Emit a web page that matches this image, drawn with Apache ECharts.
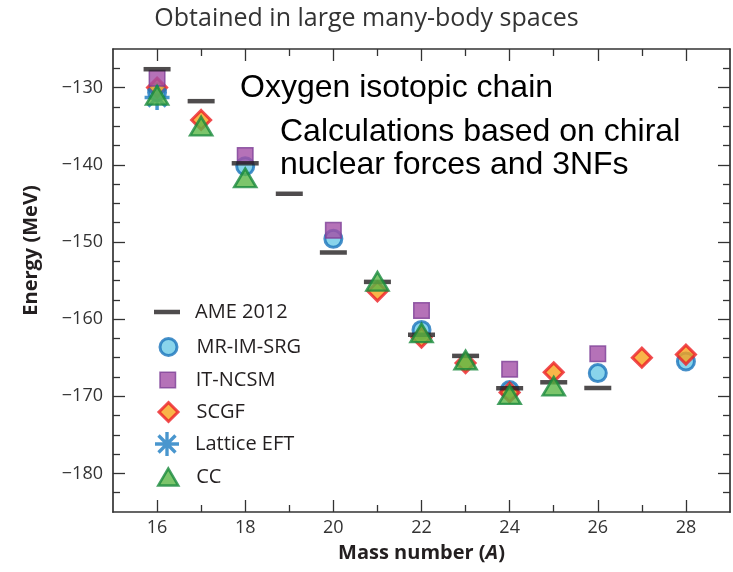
<!DOCTYPE html>
<html>
<head>
<meta charset="utf-8">
<script src="https://cdn.jsdelivr.net/npm/echarts@6/dist/echarts.min.js"></script>
<style>
  html, body { margin: 0; padding: 0; background: #fff; }
  #chart { width: 733px; height: 572px; }
</style>
</head>
<body>
<div id="chart"></div>
<script>
// Ground-state energies of oxygen isotopes (MeV) against mass number A
const ameA = [16, 17, 18, 19, 20, 21, 22, 23, 24, 25, 26];
const ameE = [-127.62, -131.76, -139.81, -143.76, -151.37, -155.18, -162.03, -164.77, -168.96, -168.19, -168.93];

const imsrgA = [16, 18, 20, 22, 24, 26, 28];
const imsrgE = [-130.6, -140.2, -149.6, -161.4, -169.2, -167.0, -165.5];

const ncsmA = [16, 18, 20, 22, 24, 26];
const ncsmE = [-128.8, -138.8, -148.5, -158.9, -166.5, -164.5];

const scgfA = [16, 17, 21, 22, 23, 24, 25, 27, 28];
const scgfE = [-130.0, -134.2, -156.4, -162.4, -165.7, -169.5, -166.9, -165.0, -164.6];

const latticeA = [16];
const latticeE = [-131.3];

const ccA = [16, 17, 18, 21, 22, 23, 24, 25];
const ccE = [-131.0, -135.0, -141.7, -155.1, -161.8, -165.3, -169.8, -168.7];

// Tick positions
const xMajorTicks = [16, 18, 20, 22, 24, 26, 28];
const xMinorTicks = [17, 19, 21, 23, 25, 27];
const yMajorTicks = [-180, -170, -160, -150, -140, -130];
const yMinorTicks = [-182.5, -177.5, -175, -172.5, -167.5, -165, -162.5, -157.5, -155, -152.5,
                     -147.5, -145, -142.5, -137.5, -135, -132.5, -127.5];

const zip = (xs, ys) => xs.map((x, i) => [x, ys[i]]);

const FONT = 'Open Sans';
const AXIS_COLOR = '#333';
const TEXT_COLOR = '#231f20';

// Asterisk marker: four thin bars through the centre, all wound the same way
function asteriskPath(len, half) {
  let d = '';
  [0, 45, 90, 135].forEach(deg => {
    const t = deg * Math.PI / 180;
    const ux = Math.cos(t), uy = Math.sin(t), nx = -uy, ny = ux;
    const pts = [
      [len * ux + half * nx, len * uy + half * ny],
      [-len * ux + half * nx, -len * uy + half * ny],
      [-len * ux - half * nx, -len * uy - half * ny],
      [len * ux - half * nx, len * uy - half * ny]
    ];
    d += 'M' + pts.map(p => p[0].toFixed(2) + ',' + p[1].toFixed(2)).join('L') + 'Z';
  });
  return 'path://' + d;
}
const ASTERISK = asteriskPath(10, 1.4);
const BAR_ICON = 'path://M0,0H26V4.5H0Z';
const TRIANGLE_ICON = 'path://M10,0L20,17L0,17Z';

const styles = {
  ame:     { color: '#231f20' },
  imsrg:   { color: '#6cc9e6', borderColor: '#1a74bb', borderWidth: 3 },
  ncsm:    { color: '#a24fa6', borderColor: '#7d3f96', borderWidth: 1.5 },
  scgf:    { color: '#f8a31c', borderColor: '#ec1f26', borderWidth: 3 },
  lattice: { color: '#1b7cc2' },
  cc:      { color: '#5bb646', borderColor: '#19893c', borderWidth: 2.5 }
};

const series = [
  { name: 'AME 2012', data: zip(ameA, ameE), symbol: 'rect', symbolSize: [27, 4.5],
    itemStyle: styles.ame, z: 6 },
  { name: 'MR-IM-SRG', data: zip(imsrgA, imsrgE), symbol: 'circle', symbolSize: 17,
    itemStyle: styles.imsrg, z: 2 },
  { name: 'IT-NCSM', data: zip(ncsmA, ncsmE), symbol: 'rect', symbolSize: 15.5,
    itemStyle: styles.ncsm, z: 4 },
  { name: 'SCGF', data: zip(scgfA, scgfE), symbol: 'diamond', symbolSize: 19,
    itemStyle: styles.scgf, z: 3 },
  { name: 'Lattice EFT', data: zip(latticeA, latticeE), symbol: ASTERISK, symbolSize: 25,
    itemStyle: styles.lattice, z: 5 },
  { name: 'CC', data: zip(ccA, ccE), symbol: 'triangle', symbolSize: [22, 18.5],
    itemStyle: styles.cc, z: 7 }
].map(s => Object.assign({ type: 'scatter', emphasis: { disabled: true }, clip: false }, s));

// One legend block per entry: icon box matches the icon, text starts at a common x
const LEGEND_ICON_CX = 167;
const LEGEND_TEXT_X = 195;
const legendRows = [
  { name: 'AME 2012',    cy: 312, w: 26,   h: 4.5,  icon: BAR_ICON,      style: { borderWidth: 0 } },
  { name: 'MR-IM-SRG',   cy: 347, w: 17,   h: 17,   icon: 'circle',      style: { borderWidth: 3 } },
  { name: 'IT-NCSM',     cy: 380, w: 15.5, h: 15.5, icon: 'rect',        style: { borderWidth: 1.5 } },
  { name: 'SCGF',        cy: 412, w: 19,   h: 19,   icon: 'diamond',     style: { borderWidth: 3 } },
  { name: 'Lattice EFT', cy: 444, w: 24,   h: 24,   icon: ASTERISK,      style: { borderWidth: 0 } },
  { name: 'CC',          cy: 477, w: 20,   h: 17,   icon: TRIANGLE_ICON, style: { borderWidth: 2.5 } }
];
const legends = legendRows.map(r => {
  const left = LEGEND_ICON_CX - r.w / 2;
  const pad = LEGEND_TEXT_X - (left + r.w + 5);
  return {
    show: true,
    selectedMode: false,
    orient: 'vertical',
    left: left,
    top: r.cy - 12,
    padding: 0,
    itemWidth: r.w,
    itemHeight: r.h,
    itemStyle: r.style,
    data: [{ name: r.name, icon: r.icon }],
    textStyle: { fontFamily: FONT, fontSize: 20, color: TEXT_COLOR, lineHeight: 24,
                 padding: [0, 0, 0, pad] }
  };
});

const minus = v => String(v).replace('-', '\u2212');

function xAxisDef(position, ticks, len, opts) {
  return Object.assign({
    type: 'value', position: position, min: 15, max: 29, gridIndex: 0,
    splitLine: { show: false },
    axisLine: { show: false },
    axisTick: { show: true, inside: true, length: len, customValues: ticks,
                lineStyle: { color: AXIS_COLOR, width: 1.3 } },
    axisLabel: { show: false }
  }, opts || {});
}
function yAxisDef(position, ticks, len, opts) {
  return Object.assign({
    type: 'value', position: position, min: -185, max: -125, gridIndex: 0,
    splitLine: { show: false },
    axisLine: { show: false },
    axisTick: { show: true, inside: true, length: len, customValues: ticks,
                lineStyle: { color: AXIS_COLOR, width: 1.3 } },
    axisLabel: { show: false }
  }, opts || {});
}

const frameLine = { show: true, onZero: false, lineStyle: { color: AXIS_COLOR, width: 1.7 } };

const option = {
  backgroundColor: '#fff',
  animation: false,
  title: {
    text: 'Obtained in large many-body spaces',
    left: 'center',
    top: 1,
    textStyle: { fontFamily: FONT, fontWeight: 'normal', fontSize: 25, color: '#333' }
  },
  grid: { left: 113, right: 3, top: 49, bottom: 60, containLabel: false, outerBoundsMode: 'none' },
  legend: legends,
  xAxis: [
    xAxisDef('bottom', xMajorTicks, 12, {
      axisLine: frameLine,
      axisLabel: { show: true, customValues: xMajorTicks, margin: 7,
                   fontFamily: FONT, fontSize: 18, color: '#333' },
      name: 'Mass number ({i|A})',
      nameLocation: 'middle',
      nameGap: 31,
      nameTextStyle: {
        fontFamily: FONT, fontWeight: 'bold', fontSize: 20, color: TEXT_COLOR,
        rich: { i: { fontFamily: FONT, fontWeight: 'bold', fontStyle: 'italic', fontSize: 20, color: TEXT_COLOR } }
      }
    }),
    xAxisDef('bottom', xMinorTicks, 7),
    xAxisDef('top', xMajorTicks, 12, { axisLine: frameLine }),
    xAxisDef('top', xMinorTicks, 7)
  ],
  yAxis: [
    yAxisDef('left', yMajorTicks, 12, {
      axisLine: frameLine,
      axisLabel: { show: true, customValues: yMajorTicks, margin: 10, formatter: minus,
                   fontFamily: FONT, fontSize: 18, color: '#333' },
      name: 'Energy (MeV)',
      nameLocation: 'middle',
      nameGap: 72,
      nameTextStyle: { fontFamily: FONT, fontWeight: 'bold', fontSize: 20, color: TEXT_COLOR,
                       padding: [0, 0, 0, 60] }
    }),
    yAxisDef('left', yMinorTicks, 7),
    yAxisDef('right', yMajorTicks, 12, { axisLine: frameLine }),
    yAxisDef('right', yMinorTicks, 7)
  ],
  graphic: [
    { type: 'text', x: 240, y: 88, z: 10,
      style: { text: 'Oxygen isotopic chain', font: '32px "Liberation Sans"', fill: '#000',
               verticalAlign: 'middle' } },
    { type: 'text', x: 280, y: 132, z: 10,
      style: { text: 'Calculations based on chiral', font: '32px "Liberation Sans"', fill: '#000',
               verticalAlign: 'middle' } },
    { type: 'text', x: 280, y: 165, z: 10,
      style: { text: 'nuclear forces and 3NFs', font: '32px "Liberation Sans"', fill: '#000',
               verticalAlign: 'middle' } }
  ],
  series: series
};

const chart = echarts.init(document.getElementById('chart'), null, { renderer: 'canvas' });
chart.setOption(option);
</script>
</body>
</html>
